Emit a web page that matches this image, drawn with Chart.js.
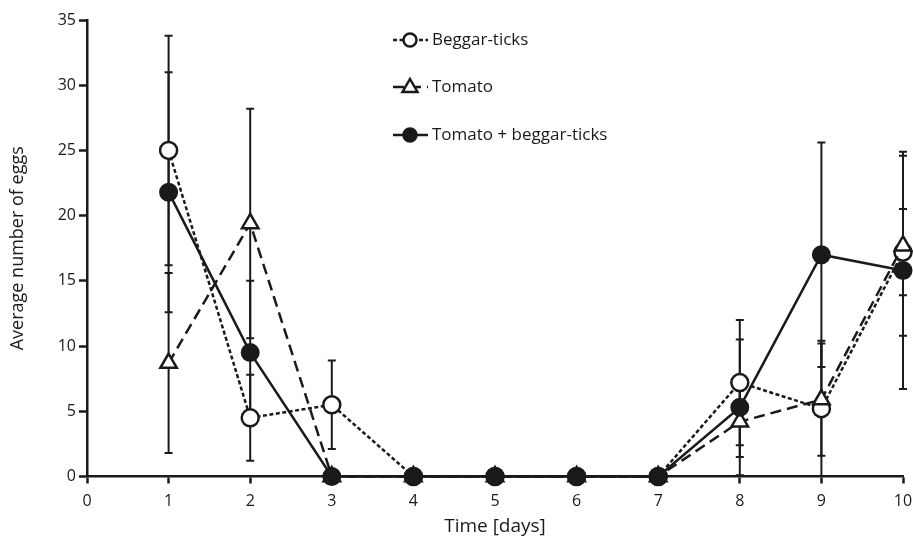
<!DOCTYPE html>
<html>
<head>
<meta charset="utf-8">
<script src="https://cdn.jsdelivr.net/npm/chart.js@4/dist/chart.umd.min.js"></script>
<style>
  html, body { margin: 0; padding: 0; background: #fff; }
  #wrap { width: 913px; height: 542px; position: relative; }
</style>
</head>
<body>
<div id="wrap"><canvas id="eggChart"></canvas></div>
<script>
// data
const days = [1, 2, 3, 4, 5, 6, 7, 8, 9, 10];
const yTicks = [0, 5, 10, 15, 20, 25, 30, 35];

const beggarTicks = [25, 4.5, 5.5, 0, 0, 0, 0, 7.2, 5.2, 17.2];
const beggarTicksErr = [8.8, 3.3, 3.4, 0, 0, 0, 0, 4.8, 5.2, 3.3];

const tomato = [8.7, 19.4, 0, 0, 0, 0, 0, 4.2, 5.9, 17.7];
const tomatoErr = [6.9, 8.8, 0, 0, 0, 0, 0, 2.7, 4.3, 6.9];

const tomatoBeggar = [21.8, 9.5, 0, 0, 0, 0, 0, 5.3, 17.0, 15.8];
const tomatoBeggarErr = [9.2, 5.5, 0, 0, 0, 0, 0, 5.2, 8.6, 9.1];

const FONT = '"Open Sans", Lato, sans-serif';
const INK = '#1a1a1a';

function pts(vals) {
  return days.map((d, i) => ({ x: d, y: vals[i] }));
}

// Error bars, drawn under the markers
const errorBars = {
  id: 'errorBars',
  beforeDatasetsDraw(chart) {
    const { ctx, scales: { x, y } } = chart;
    ctx.save();
    ctx.strokeStyle = INK;
    ctx.lineWidth = 2;
    chart.data.datasets.forEach(ds => {
      ds.data.forEach((p, i) => {
        const e = ds.errors[i];
        if (!e) return;
        const px = x.getPixelForValue(p.x);
        const top = y.getPixelForValue(p.y + e);
        const bot = y.getPixelForValue(Math.max(p.y - e, 0));
        ctx.beginPath();
        ctx.moveTo(px, top); ctx.lineTo(px, bot);
        ctx.moveTo(px - 4, top); ctx.lineTo(px + 4, top);
        if (p.y - e > 0) { ctx.moveTo(px - 4, bot); ctx.lineTo(px + 4, bot); }
        ctx.stroke();
      });
    });
    ctx.restore();
  }
};

// Vertical legend inside the plot
const insideLegend = {
  id: 'insideLegend',
  afterDraw(chart) {
    const { ctx } = chart;
    const x0 = 393, x1 = 428, mx = 410, tx = 432;
    const rows = [40, 87, 135];
    ctx.save();
    chart.data.datasets.forEach((ds, i) => {
      const ry = rows[i];
      ctx.strokeStyle = INK;
      ctx.lineWidth = 2.5;
      ctx.setLineDash(ds.borderDash || []);
      ctx.beginPath();
      ctx.moveTo(x0, ry); ctx.lineTo(x1, ry);
      ctx.stroke();
      ctx.setLineDash([]);
      ctx.fillStyle = ds.pointBackgroundColor;
      ctx.beginPath();
      if (ds.pointStyle === 'circle') {
        ctx.arc(mx, ry, 6.5, 0, Math.PI * 2);
      } else {
        ctx.moveTo(mx, ry - 8); ctx.lineTo(mx + 7.5, ry + 5); ctx.lineTo(mx - 7.5, ry + 5); ctx.closePath();
      }
      ctx.fill(); ctx.stroke();
      ctx.fillStyle = INK;
      ctx.font = '17px ' + FONT;
      ctx.textBaseline = 'middle';
      ctx.textAlign = 'left';
      ctx.fillText(ds.label, tx, ry);
    });
    ctx.restore();
  }
};

new Chart(document.getElementById('eggChart'), {
  type: 'line',
  data: {
    datasets: [
      {
        label: 'Beggar-ticks',
        data: pts(beggarTicks),
        errors: beggarTicksErr,
        borderColor: INK,
        borderWidth: 2.5,
        borderDash: [4, 2.5],
        pointStyle: 'circle',
        pointRadius: 8.5,
        pointBorderWidth: 2.5,
        pointBorderColor: INK,
        pointBackgroundColor: '#fff',
        clip: false,
        order: 3
      },
      {
        label: 'Tomato',
        data: pts(tomato),
        errors: tomatoErr,
        borderColor: INK,
        borderWidth: 2.5,
        borderDash: [11, 6],
        pointStyle: 'triangle',
        pointRadius: 9.5,
        pointBorderWidth: 2.5,
        pointBorderColor: INK,
        pointBackgroundColor: '#fff',
        clip: false,
        order: 2
      },
      {
        label: 'Tomato + beggar-ticks',
        data: pts(tomatoBeggar),
        errors: tomatoBeggarErr,
        borderColor: INK,
        borderWidth: 2.5,
        pointStyle: 'circle',
        pointRadius: 8.5,
        pointBorderWidth: 2,
        pointBorderColor: INK,
        pointBackgroundColor: INK,
        clip: false,
        order: 1
      }
    ]
  },
  options: {
    responsive: true,
    maintainAspectRatio: false,
    animation: false,
    layout: { autoPadding: false, padding: { top: 20, right: 10, left: 0, bottom: 0 } },
    plugins: {
      legend: { display: false },
      tooltip: { enabled: false }
    },
    scales: {
      x: {
        type: 'linear',
        min: 0,
        max: 10,
        afterFit(scale) {
          scale.height = 65.5;
          scale.paddingLeft = 0;
          scale.paddingRight = 0;
        },
        ticks: {
          stepSize: 1,
          color: INK,
          font: { family: FONT, size: 16 },
          padding: 8,
          maxRotation: 0
        },
        grid: { drawOnChartArea: false, tickLength: 7, tickWidth: 2.5, tickColor: INK },
        border: { color: INK, width: 2.5 },
        title: {
          display: true,
          text: 'Time [days]',
          color: INK,
          font: { family: FONT, size: 19 },
          padding: { top: 10 }
        }
      },
      y: {
        min: 0,
        max: 35,
        afterFit(scale) {
          scale.width = 87;
        },
        afterBuildTicks(scale) {
          scale.ticks = yTicks.map(v => ({ value: v }));
        },
        ticks: {
          color: INK,
          font: { family: FONT, size: 16 },
          padding: 3
        },
        grid: { drawOnChartArea: false, tickLength: 8, tickWidth: 2.5, tickColor: INK },
        border: { color: INK, width: 2.5 },
        title: {
          display: true,
          text: 'Average number of eggs',
          color: INK,
          font: { family: FONT, size: 18 },
          padding: { top: 7, bottom: 0 }
        }
      }
    }
  },
  plugins: [errorBars, insideLegend]
});
</script>
</body>
</html>
